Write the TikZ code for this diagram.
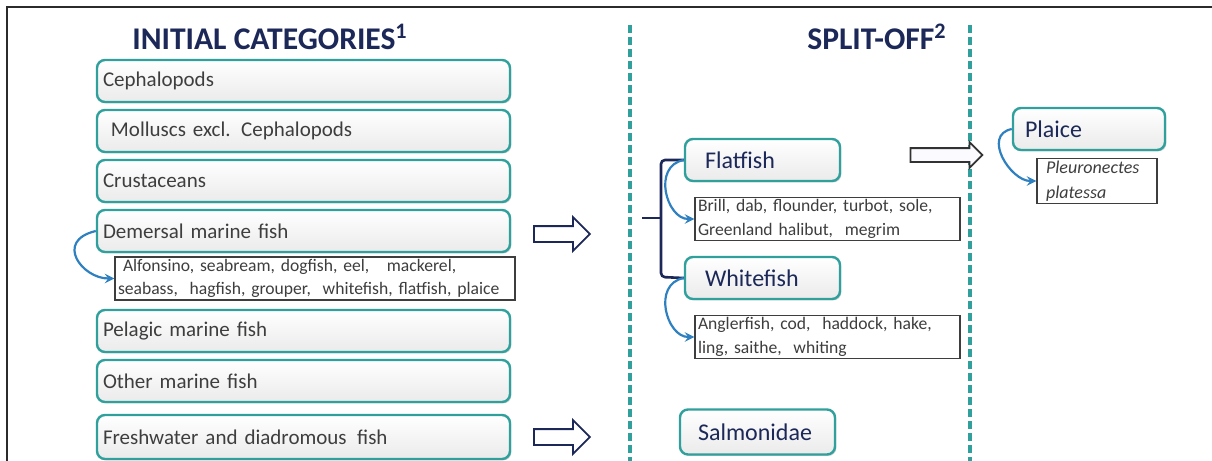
\documentclass[tikz,border=0pt]{standalone}
\usepackage{fontspec}
\setmainfont{Carlito}
\usepackage{xcolor}
\usepackage{tikz}
\usetikzlibrary{shapes.arrows,shadows}
\definecolor{tealline}{RGB}{48,160,156}
\definecolor{navytext}{RGB}{28,40,88}
\definecolor{greytext}{RGB}{62,62,62}
\definecolor{arrowblue}{RGB}{46,128,192}

\begin{document}
\begin{tikzpicture}[x=0.5pt,y=-0.5pt,>=stealth,
  title/.style={font=\fontsize{15.8}{17}\selectfont\bfseries,text=navytext,inner sep=0pt},
  catbox/.style={draw=tealline,line width=1.2pt,rounded corners=4pt,top color=white,bottom color=gray!16,
    drop shadow={opacity=0.35,shadow xshift=0.7pt,shadow yshift=-0.7pt},
    minimum height=21pt,text width=200.5pt,inner xsep=3pt,align=left,
    font=\fontsize{10.5}{12}\selectfont,text=greytext},
  splitbox/.style={catbox,text width=57.5pt,inner xsep=10pt,font=\fontsize{12}{14}\selectfont,text=navytext},
  listbox/.style={draw=greytext,line width=0.6pt,fill=white,align=left,inner xsep=1.5pt,inner ysep=1pt,
    font=\fontsize{8.8}{11.8}\selectfont,text=greytext},
  hollowarr/.style={single arrow,draw=navytext,line width=0.9pt,fill=white,inner xsep=0pt,inner ysep=3.5pt,
    minimum height=28pt,single arrow head extend=4.5pt,single arrow tip angle=90},
  curvearr/.style={->,draw=arrowblue,line width=1.1pt},
  brace/.style={draw=navytext,line width=1.3pt,rounded corners=2pt},
  sepline/.style={draw=tealline,line width=1.6pt,dash pattern=on 4pt off 2pt}]
\useasboundingbox (0,0) rectangle (1212,461);
\draw[greytext!70!black,line width=1pt] (7,461) -- (7,7) -- (1212,7);
\draw[sepline] (630,25) -- (630,461);
\draw[sepline] (970,25) -- (970,461);

\node[title] (initt) at (270,37) {INITIAL CATEGORIES\textsuperscript{1}};
\node[title] (splitt) at (877,37) {SPLIT-OFF\textsuperscript{2}};

\node[catbox] (ceph) at (303.5,81) {Cephalopods};
\node[catbox] (moll) at (303.5,131) {\hspace*{4pt}Molluscs excl. Cephalopods};
\node[catbox] (crus) at (303.5,181) {Crustaceans};
\node[catbox] (dem) at (303.5,231) {Demersal marine fish};
\node[listbox,text width=197pt] (alf) at (315,278.5)
  {\hspace*{2.5pt}Alfonsino, seabream, dogfish, eel,\ \ \ mackerel,\\seabass,\ \ hagfish, grouper,\ \ whitefish, flatfish, plaice};
\node[catbox] (pel) at (303.5,331) {Pelagic marine fish};
\node[catbox] (oth) at (303.5,381) {Other marine fish};
\node[catbox,minimum height=22pt] (fresh) at (303.5,437) {Freshwater and diadromous\ \,fish};

\node[hollowarr] (ar1) at (558,234) {};
\node[hollowarr] (ar2) at (558,437) {};

\node[splitbox] (flat) at (762.5,160) {Flatfish};
\node[listbox,text width=129.5pt] (brill) at (827.5,219)
  {Brill, dab, flounder, turbot, sole,\\Greenland halibut,\ \ megrim};
\node[splitbox] (white) at (762.5,278) {Whitefish};
\node[listbox,text width=129.5pt] (angl) at (827.5,337)
  {Anglerfish, cod,\ \ haddock, hake,\\ling, saithe,\ \ whiting};
\node[splitbox,minimum height=22.5pt,inner xsep=9pt,text width=59.5pt] (salm) at (757.5,432) {Salmonidae};

\coordinate (brk) at (642,218);
\draw[brace] (flat.west) -- (661,160) -- (661,277) -- (white.west);
\draw[brace] (brk) -- (brk -| 661,0);

\node[hollowarr,draw=greytext!80!black,fill=blue!2,minimum height=36pt,inner ysep=3pt,single arrow head extend=3pt] (ar3) at (943,155) {};

\node[splitbox,inner xsep=6pt,text width=64pt] (plaice) at (1089,129) {Plaice};
\node[listbox,text width=51pt,inner xsep=4.5pt,font=\fontsize{9}{12.5}\selectfont\itshape] (pleur) at (1097,181)
  {Pleuronectes\\platessa};

\draw[curvearr] (dem.west) .. controls +(-42,10) and +(-32,0) .. (alf.west);
\draw[curvearr] (flat.west) .. controls +(-32,6) and +(-28,0) .. (brill.west);
\draw[curvearr] (white.west) .. controls +(-32,6) and +(-28,0) .. (angl.west);
\draw[curvearr] (plaice.west) .. controls +(-30,6) and +(-26,0) .. (pleur.west);
\end{tikzpicture}
\end{document}
